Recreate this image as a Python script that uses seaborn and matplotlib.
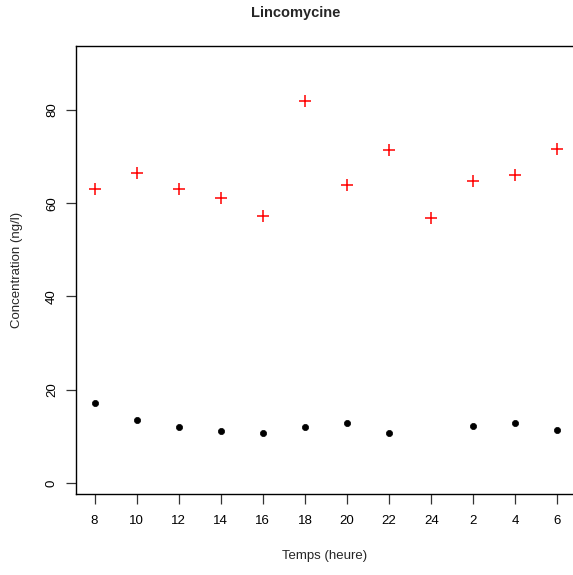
import numpy as np
import pandas as pd
import matplotlib
matplotlib.use("Agg")
import matplotlib.pyplot as plt
import seaborn as sns

# Data
hours = ["8", "10", "12", "14", "16", "18", "20", "22", "24", "2", "4", "6"]
red_values = [63.0, 66.5, 63.1, 61.2, 57.3, 82.0, 64.0, 71.3, 56.8, 64.8, 66.0, 71.6]
black_values = [17.2, 13.4, 11.9, 11.1, 10.8, 11.9, 12.9, 10.8, np.nan, 12.2, 12.9, 11.3]
y_ticks = [0, 20, 40, 60, 80]

title = "Lincomycine"
xlabel = "Temps (heure)"
ylabel = "Concentration (ng/l)"

sns.set_style("white")
plt.rcParams["font.family"] = ["Liberation Sans", "DejaVu Sans"]

W, H = 573, 575
fig = plt.figure(figsize=(W / 100, H / 100), dpi=100)
left, right, top, bottom = 76, 576, 46, 494
ax = fig.add_axes([left / W, 1 - bottom / H, (right - left) / W, (bottom - top) / H])

pos = np.arange(len(hours))
df_red = pd.DataFrame({"x": pos, "y": red_values})
df_black = pd.DataFrame({"x": pos, "y": black_values})

sns.scatterplot(data=df_red, x="x", y="y", ax=ax, marker="+", s=85,
                color="#ff0000", linewidth=1.1)
sns.scatterplot(data=df_black, x="x", y="y", ax=ax, marker="o", s=20,
                color="black", edgecolor="black", linewidth=0.5)

ax.set_xlim(-0.44, len(hours) - 1 + 0.44)
ax.set_ylim(-2.36, 93.7)
ax.set_xticks(pos)
ax.set_xticklabels(hours)
ax.set_yticks(y_ticks)
ax.set_yticklabels([str(t) for t in y_ticks], rotation=90, va="center")

for name, s in ax.spines.items():
    s.set_visible(name != "right")
    s.set_color("black")
    s.set_linewidth(1.0)

ax.tick_params(axis="both", which="both", direction="out", length=7, width=0.9,
               colors="#333333", labelcolor="black", labelsize=9.5)
ax.tick_params(axis="x", pad=8, bottom=True)
ax.tick_params(axis="y", pad=6, left=True)

ax.set_xlabel(xlabel, fontsize=9.5)
ax.set_ylabel(ylabel, fontsize=9.5)
ax.xaxis.label.set_va("center")
ax.yaxis.label.set_va("center")
ax.xaxis.set_label_coords((325 - left) / (right - left), -(556 - bottom) / (bottom - top))
ax.yaxis.set_label_coords((17 - left) / (right - left), (bottom - 270) / (bottom - top))

fig.text(296 / W, 1 - 13.5 / H, title, ha="center", va="center",
         fontsize=10.5, fontweight="bold")

fig.savefig("out.png", dpi=100)
